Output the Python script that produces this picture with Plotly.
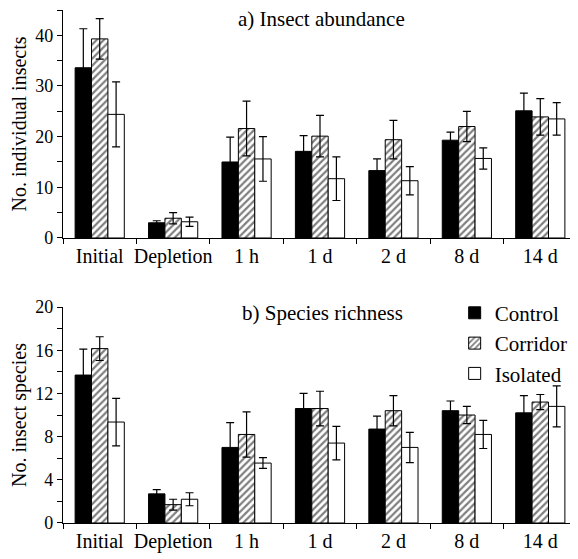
import plotly.graph_objects as go

categories = ["Initial", "Depletion", "1 h", "1 d", "2 d", "8 d", "14 d"]
series_names = ["Control", "Corridor", "Isolated"]

# a) Insect abundance (mean, SE)
abund_control = [33.6, 3.0, 15.0, 17.1, 13.3, 19.3, 25.1]
abund_control_err = [7.7, 0.4, 4.9, 3.1, 2.3, 1.6, 3.5]
abund_corridor = [39.3, 3.9, 21.6, 20.1, 19.4, 22.0, 23.9]
abund_corridor_err = [4.0, 1.1, 5.4, 4.1, 3.8, 3.0, 3.6]
abund_isolated = [24.4, 3.2, 15.6, 11.7, 11.3, 15.7, 23.5]
abund_isolated_err = [6.4, 0.9, 4.4, 4.3, 2.8, 2.1, 3.2]

# b) Species richness (mean, SE)
rich_control = [13.7, 2.7, 7.0, 10.6, 8.7, 10.4, 10.2]
rich_control_err = [2.4, 0.4, 2.3, 1.4, 1.2, 0.9, 1.6]
rich_corridor = [16.15, 1.7, 8.2, 10.6, 10.4, 10.0, 11.2]
rich_corridor_err = [1.1, 0.5, 2.1, 1.6, 1.4, 0.8, 0.7]
rich_isolated = [9.35, 2.2, 5.55, 7.4, 7.0, 8.2, 10.8]
rich_isolated_err = [2.2, 0.6, 0.5, 1.55, 1.4, 1.3, 1.9]

FONT = "Liberation Serif"

styles = [
    dict(color="black", pattern=dict(shape="")),
    dict(color="white", pattern=dict(shape="/", fgcolor="black", bgcolor="white", size=5, solidity=0.45)),
    dict(color="white", pattern=dict(shape="")),
]

fig = go.Figure()

top = [(abund_control, abund_control_err), (abund_corridor, abund_corridor_err), (abund_isolated, abund_isolated_err)]
bot = [(rich_control, rich_control_err), (rich_corridor, rich_corridor_err), (rich_isolated, rich_isolated_err)]

for i, (vals, errs) in enumerate(top):
    fig.add_trace(go.Bar(
        x=categories, y=vals, name=series_names[i], showlegend=False,
        marker=dict(color=styles[i]["color"], pattern=styles[i]["pattern"], line=dict(color="black", width=1)),
        error_y=dict(type="data", array=errs, color="black", thickness=1.2, width=4),
        xaxis="x", yaxis="y",
    ))

for i, (vals, errs) in enumerate(bot):
    fig.add_trace(go.Bar(
        x=categories, y=vals, name=series_names[i], showlegend=True,
        marker=dict(color=styles[i]["color"], pattern=styles[i]["pattern"], line=dict(color="black", width=1)),
        error_y=dict(type="data", array=errs, color="black", thickness=1.2, width=4),
        xaxis="x2", yaxis="y2",
    ))

axis_common = dict(showline=True, linecolor="black", linewidth=1.2, showgrid=False, zeroline=False,
                   ticks="outside", tickcolor="black", ticklen=5, tickwidth=1, automargin=False)

xfont = dict(family=FONT, size=20, color="black")
yfont = dict(family=FONT, size=18, color="black")

fig.update_layout(
    width=570, height=551,
    margin=dict(l=55, r=1, t=2, b=36),
    paper_bgcolor="white", plot_bgcolor="white",
    barmode="group", bargap=0.33, bargroupgap=0,
    font=dict(family=FONT, color="black", size=18),
    xaxis=dict(domain=[0, 1], anchor="y", tickson="boundaries", tickangle=0, tickfont=xfont, **axis_common),
    yaxis=dict(domain=[0.5556, 1], anchor="x", range=[0, 45], dtick=10, tick0=0, tickfont=yfont,
               minor=dict(dtick=5, ticks="outside", ticklen=5, tickcolor="black"),
               title=dict(text="No. individual insects", font=dict(family=FONT, size=20), standoff=8),
               **axis_common),
    xaxis2=dict(domain=[0, 1], anchor="y2", tickson="boundaries", tickangle=0, tickfont=xfont, **axis_common),
    yaxis2=dict(domain=[0, 0.421], anchor="x2", range=[0, 20], dtick=4, tick0=0, tickfont=yfont,
                minor=dict(dtick=2, ticks="outside", ticklen=5, tickcolor="black"),
                title=dict(text="No. insect species", font=dict(family=FONT, size=20), standoff=8),
                **axis_common),
    legend=dict(x=0.762, y=0.449, xanchor="left", yanchor="top", bgcolor="rgba(0,0,0,0)",
                font=dict(family=FONT, size=21, color="black"), itemwidth=30, tracegroupgap=0),
    annotations=[
        dict(text="a) Insect abundance", x=0.502, y=0.982, xref="paper", yref="paper",
             xanchor="center", yanchor="middle",
             showarrow=False, font=dict(family=FONT, size=21, color="black")),
        dict(text="b) Species richness", x=0.504, y=0.409, xref="paper", yref="paper",
             xanchor="center", yanchor="middle",
             showarrow=False, font=dict(family=FONT, size=21, color="black")),
    ],
)

fig.write_html("out.html")
